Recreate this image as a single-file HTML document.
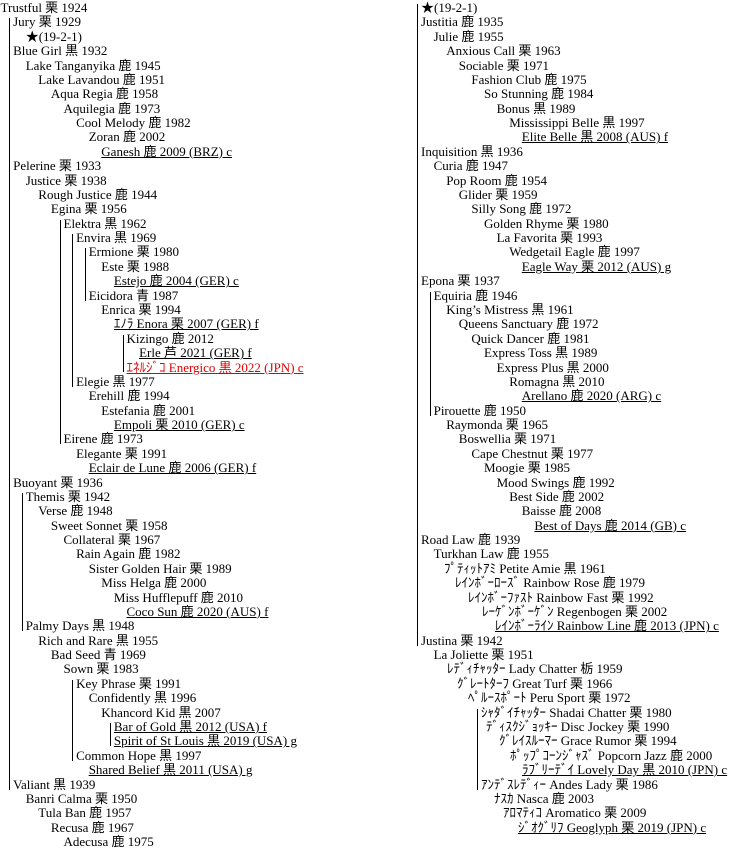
<!DOCTYPE html>
<html><head><meta charset="utf-8">
<style>
html,body{margin:0;padding:0;background:#fff;}
body{width:741px;height:851px;position:relative;overflow:hidden;font-family:"Liberation Serif","Noto Sans CJK JP",serif;font-size:13px;color:#000;}
.r{position:absolute;white-space:nowrap;line-height:14px;height:14px;}
.u{text-decoration:underline;}
.red{color:#e00000;}
.v{position:absolute;width:1px;background:#000;}
</style></head><body>
<script>
var L=[
[0,"Trustful 栗 1924"],[1,"Jury 栗 1929"],[2,"★(19-2-1)"],[1,"Blue Girl 黒 1932"],[2,"Lake Tanganyika 鹿 1945"],[3,"Lake Lavandou 鹿 1951"],[4,"Aqua Regia 鹿 1958"],[5,"Aquilegia 鹿 1973"],[6,"Cool Melody 鹿 1982"],[7,"Zoran 鹿 2002"],[8,"Ganesh 鹿 2009 (BRZ) c",1],
[1,"Pelerine 栗 1933"],[2,"Justice 栗 1938"],[3,"Rough Justice 鹿 1944"],[4,"Egina 栗 1956"],[5,"Elektra 黒 1962"],[6,"Envira 黒 1969"],[7,"Ermione 栗 1980"],[8,"Este 栗 1988"],[9,"Estejo 鹿 2004 (GER) c",1],[7,"Eicidora 青 1987"],[8,"Enrica 栗 1994"],[9,"ｴﾉﾗ Enora 栗 2007 (GER) f",1],[10,"Kizingo 鹿 2012"],[11,"Erle 芦 2021 (GER) f",1],[10,"ｴﾈﾙｼﾞｺ Energico 黒 2022 (JPN) c",2],
[6,"Elegie 黒 1977"],[7,"Erehill 鹿 1994"],[8,"Estefania 鹿 2001"],[9,"Empoli 栗 2010 (GER) c",1],[5,"Eirene 鹿 1973"],[6,"Elegante 栗 1991"],[7,"Eclair de Lune 鹿 2006 (GER) f",1],
[1,"Buoyant 栗 1936"],[2,"Themis 栗 1942"],[3,"Verse 鹿 1948"],[4,"Sweet Sonnet 栗 1958"],[5,"Collateral 栗 1967"],[6,"Rain Again 鹿 1982"],[7,"Sister Golden Hair 栗 1989"],[8,"Miss Helga 鹿 2000"],[9,"Miss Hufflepuff 鹿 2010"],[10,"Coco Sun 鹿 2020 (AUS) f",1],
[2,"Palmy Days 黒 1948"],[3,"Rich and Rare 黒 1955"],[4,"Bad Seed 青 1969"],[5,"Sown 栗 1983"],[6,"Key Phrase 栗 1991"],[7,"Confidently 黒 1996"],[8,"Khancord Kid 黒 2007"],[9,"Bar of Gold 黒 2012 (USA) f",1],[9,"Spirit of St Louis 黒 2019 (USA) g",1],[6,"Common Hope 黒 1997"],[7,"Shared Belief 黒 2011 (USA) g",1],
[1,"Valiant 黒 1939"],[2,"Banri Calma 栗 1950"],[3,"Tula Ban 鹿 1957"],[4,"Recusa 鹿 1967"],[5,"Adecusa 鹿 1975"]
];
var R=[
[0,"★(19-2-1)"],[0,"Justitia 鹿 1935"],[1,"Julie 鹿 1955"],[2,"Anxious Call 栗 1963"],[3,"Sociable 栗 1971"],[4,"Fashion Club 鹿 1975"],[5,"So Stunning 鹿 1984"],[6,"Bonus 黒 1989"],[7,"Mississippi Belle 黒 1997"],[8,"Elite Belle 黒 2008 (AUS) f",1],
[0,"Inquisition 黒 1936"],[1,"Curia 鹿 1947"],[2,"Pop Room 鹿 1954"],[3,"Glider 栗 1959"],[4,"Silly Song 鹿 1972"],[5,"Golden Rhyme 栗 1980"],[6,"La Favorita 栗 1993"],[7,"Wedgetail Eagle 鹿 1997"],[8,"Eagle Way 栗 2012 (AUS) g",1],
[0,"Epona 栗 1937"],[1,"Equiria 鹿 1946"],[2,"King’s Mistress 黒 1961"],[3,"Queens Sanctuary 鹿 1972"],[4,"Quick Dancer 鹿 1981"],[5,"Express Toss 黒 1989"],[6,"Express Plus 黒 2000"],[7,"Romagna 黒 2010"],[8,"Arellano 鹿 2020 (ARG) c",1],
[1,"Pirouette 鹿 1950"],[2,"Raymonda 栗 1965"],[3,"Boswellia 栗 1971"],[4,"Cape Chestnut 栗 1977"],[5,"Moogie 栗 1985"],[6,"Mood Swings 鹿 1992"],[7,"Best Side 鹿 2002"],[8,"Baisse 鹿 2008"],[9,"Best of Days 鹿 2014 (GB) c",1],
[0,"Road Law 鹿 1939"],[1,"Turkhan Law 鹿 1955"],[2,"ﾌﾟﾃｨｯﾄｱﾐ Petite Amie 黒 1961",0,444],[3,"ﾚｲﾝﾎﾞｰﾛｰｽﾞ Rainbow Rose 鹿 1979",0,455],[4,"ﾚｲﾝﾎﾞｰﾌｧｽﾄ Rainbow Fast 栗 1992",0,468],[5,"ﾚｰｹﾞﾝﾎﾞｰｹﾞﾝ Regenbogen 栗 2002",0,482],[6,"ﾚｲﾝﾎﾞｰﾗｲﾝ  Rainbow Line 鹿 2013 (JPN) c",1,495],
[0,"Justina 栗 1942"],[1,"La Joliette 栗 1951"],[2,"ﾚﾃﾞｨﾁｬｯﾀｰ Lady Chatter 栃 1959",0,447],[3,"ｸﾞﾚｰﾄﾀｰﾌ Great Turf 栗 1966",0,457],[4,"ﾍﾟﾙｰｽﾎﾟｰﾄ Peru Sport 栗 1972",0,468],[5,"ｼｬﾀﾞｲﾁｬｯﾀｰ Shadai Chatter 栗 1980",0,481],[6,"ﾃﾞｨｽｸｼﾞｮｯｷｰ Disc Jockey 栗 1990",0,486],[7,"ｸﾞﾚｲｽﾙｰﾏｰ Grace Rumor 栗 1994",0,499],[8,"ﾎﾟｯﾌﾟｺｰﾝｼﾞｬｽﾞ Popcorn Jazz 鹿 2000",0,510],[9,"ﾗﾌﾞﾘｰﾃﾞｲ Lovely Day 黒 2010 (JPN) c",1,522],
[5,"ｱﾝﾃﾞｽﾚﾃﾞｨｰ Andes Lady 栗 1986",0,481],[6,"ﾅｽｶ Nasca 鹿 2003",0,494],[7,"ｱﾛﾏﾃｨｺ Aromatico 栗 2009",0,503],[8,"ｼﾞｵｸﾞﾘﾌ Geoglyph 栗 2019 (JPN) c",1,518]
];
var H=14.38;
function build(arr,base,virt){
  var xs=[];
  arr.forEach(function(e,i){
    var x=e[3]!==undefined?e[3]:base+e[0]*12.6;xs.push(x);
    var d=document.createElement('div');d.className='r'+(e[2]?' u':'')+(e[2]==2?' red':'');
    d.style.left=x+'px';d.style.top=(1+i*H)+'px';d.textContent=e[1];document.body.appendChild(d);
  });
  // find parent groups
  var groups={};
  arr.forEach(function(e,i){
    var p=-1;
    for(var j=i-1;j>=0;j--){if(arr[j][0]<e[0]){p=j;break;}}
    if(p==-1 && !virt) return;
    var k=p==-1?'v':p;
    (groups[k]=groups[k]||[]).push(i);
  });
  for(var k in groups){var g=groups[k];if(g.length<2)continue;
    var f=g[0],l=g[g.length-1];
    var v=document.createElement('div');v.className='v';
    v.style.left=(xs[f]-4)+'px';
    var t=8+f*H-4,b=8+l*H+5;
    v.style.top=t+'px';v.style.height=(b-t)+'px';document.body.appendChild(v);}
}
build(L,0.5,false);
build(R,421,true);
</script>
</body></html>
